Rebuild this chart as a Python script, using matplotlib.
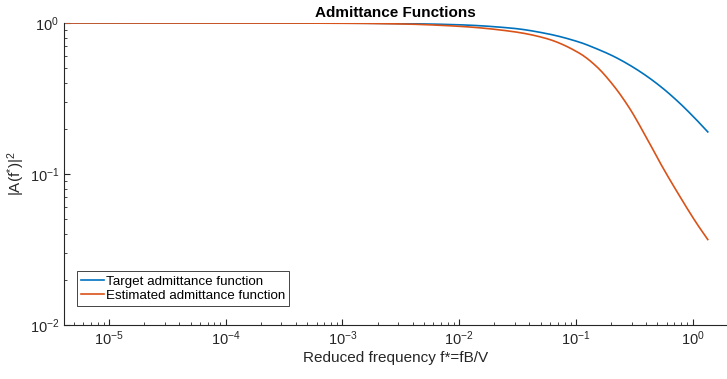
'''
Admittance functions: target vs estimated, log-log
'''
import numpy as np
import matplotlib
matplotlib.use("Agg")
import matplotlib.pyplot as plt

# values
freq = [4.1e-6, 1e-4, 1e-3, 3.16e-3, 1e-2, 0.0287, 0.0557, 0.1076, 0.15,
        0.2075, 0.288, 0.401, 0.557, 0.774, 1.076, 1.35]
target = [1.0, 1.0, 0.998, 0.991, 0.973, 0.923, 0.852, 0.746, 0.676,
          0.605, 0.527, 0.447, 0.369, 0.295, 0.229, 0.190]
estimated = [1.0, 1.0, 0.9966, 0.986, 0.951, 0.878, 0.790, 0.630, 0.516,
             0.390, 0.273, 0.175, 0.110, 0.0715, 0.0475, 0.0368]
labels = ["Target admittance function", "Estimated admittance function"]


def pchip(x, y, xn):
    # monotone cubic through the read points, just for a smooth line
    x = np.asarray(x, float)
    y = np.asarray(y, float)
    h = np.diff(x)
    d = np.diff(y) / h
    m = np.zeros_like(y)
    for k in range(1, len(x) - 1):
        if d[k - 1] * d[k] > 0:
            w1 = 2 * h[k] + h[k - 1]
            w2 = h[k] + 2 * h[k - 1]
            m[k] = (w1 + w2) / (w1 / d[k - 1] + w2 / d[k])
    m[0] = d[0]
    m[-1] = d[-1]
    i = np.clip(np.searchsorted(x, xn) - 1, 0, len(x) - 2)
    t = (xn - x[i]) / h[i]
    h00 = 2 * t**3 - 3 * t**2 + 1
    h10 = t**3 - 2 * t**2 + t
    h01 = -2 * t**3 + 3 * t**2
    h11 = t**3 - t**2
    return h00 * y[i] + h10 * h[i] * m[i] + h01 * y[i + 1] + h11 * h[i] * m[i + 1]


plt.rcParams['font.family'] = ['Liberation Sans', 'DejaVu Sans']
plt.rcParams['mathtext.default'] = 'regular'
plt.rcParams['axes.unicode_minus'] = False

W, H = 727, 379
fig = plt.figure(figsize=(W / 100, H / 100), dpi=100)
ax = fig.add_axes([64 / W, 1 - 325 / H, 663 / W, 302 / H])

lf = np.log10(freq)
fine = np.linspace(lf[0], lf[-1], 500)
t_s = 10 ** pchip(lf, np.log10(target), fine)
e_s = 10 ** pchip(lf, np.log10(estimated), fine)

ax.loglog(10 ** fine, t_s, color='#0072BD', lw=1.2, label=labels[0])
ax.loglog(10 ** fine, e_s, color='#D95319', lw=1.2, label=labels[1])

ax.set_xlim(10 ** -5.386, 10 ** 0.295)
ax.set_ylim(1e-2, 1)
ax.set_xticks([1e-5, 1e-4, 1e-3, 1e-2, 1e-1, 1e0])
ax.set_yticks([1e-2, 1e-1, 1e0])

for s in ['top', 'right']:
    ax.spines[s].set_visible(False)
for s in ['left', 'bottom']:
    ax.spines[s].set_linewidth(0.8)
    ax.spines[s].set_color('#262626')

ax.tick_params(which='both', direction='in', colors='#262626', labelsize=10.5)
ax.tick_params(which='major', length=4, width=0.8)
ax.tick_params(which='minor', length=2.5, width=0.6)

ax.set_title("Admittance Functions", fontsize=11, fontweight='bold', pad=4)
ax.set_xlabel("Reduced frequency f*=fB/V", fontsize=11, color='#262626', labelpad=2)
ax.set_ylabel(r"$|A(f^{*})|^{2}$", fontsize=11, color='#262626', labelpad=2)

leg = ax.legend(loc='lower left', bbox_to_anchor=(0.0196, 0.063), borderaxespad=0,
                fontsize=9.6, fancybox=False, handlelength=1.7, handletextpad=0.15,
                borderpad=0.3, labelspacing=0.15, framealpha=1)
leg.get_frame().set_edgecolor('#262626')
leg.get_frame().set_linewidth(0.6)

fig.savefig("out.png", dpi=100)
